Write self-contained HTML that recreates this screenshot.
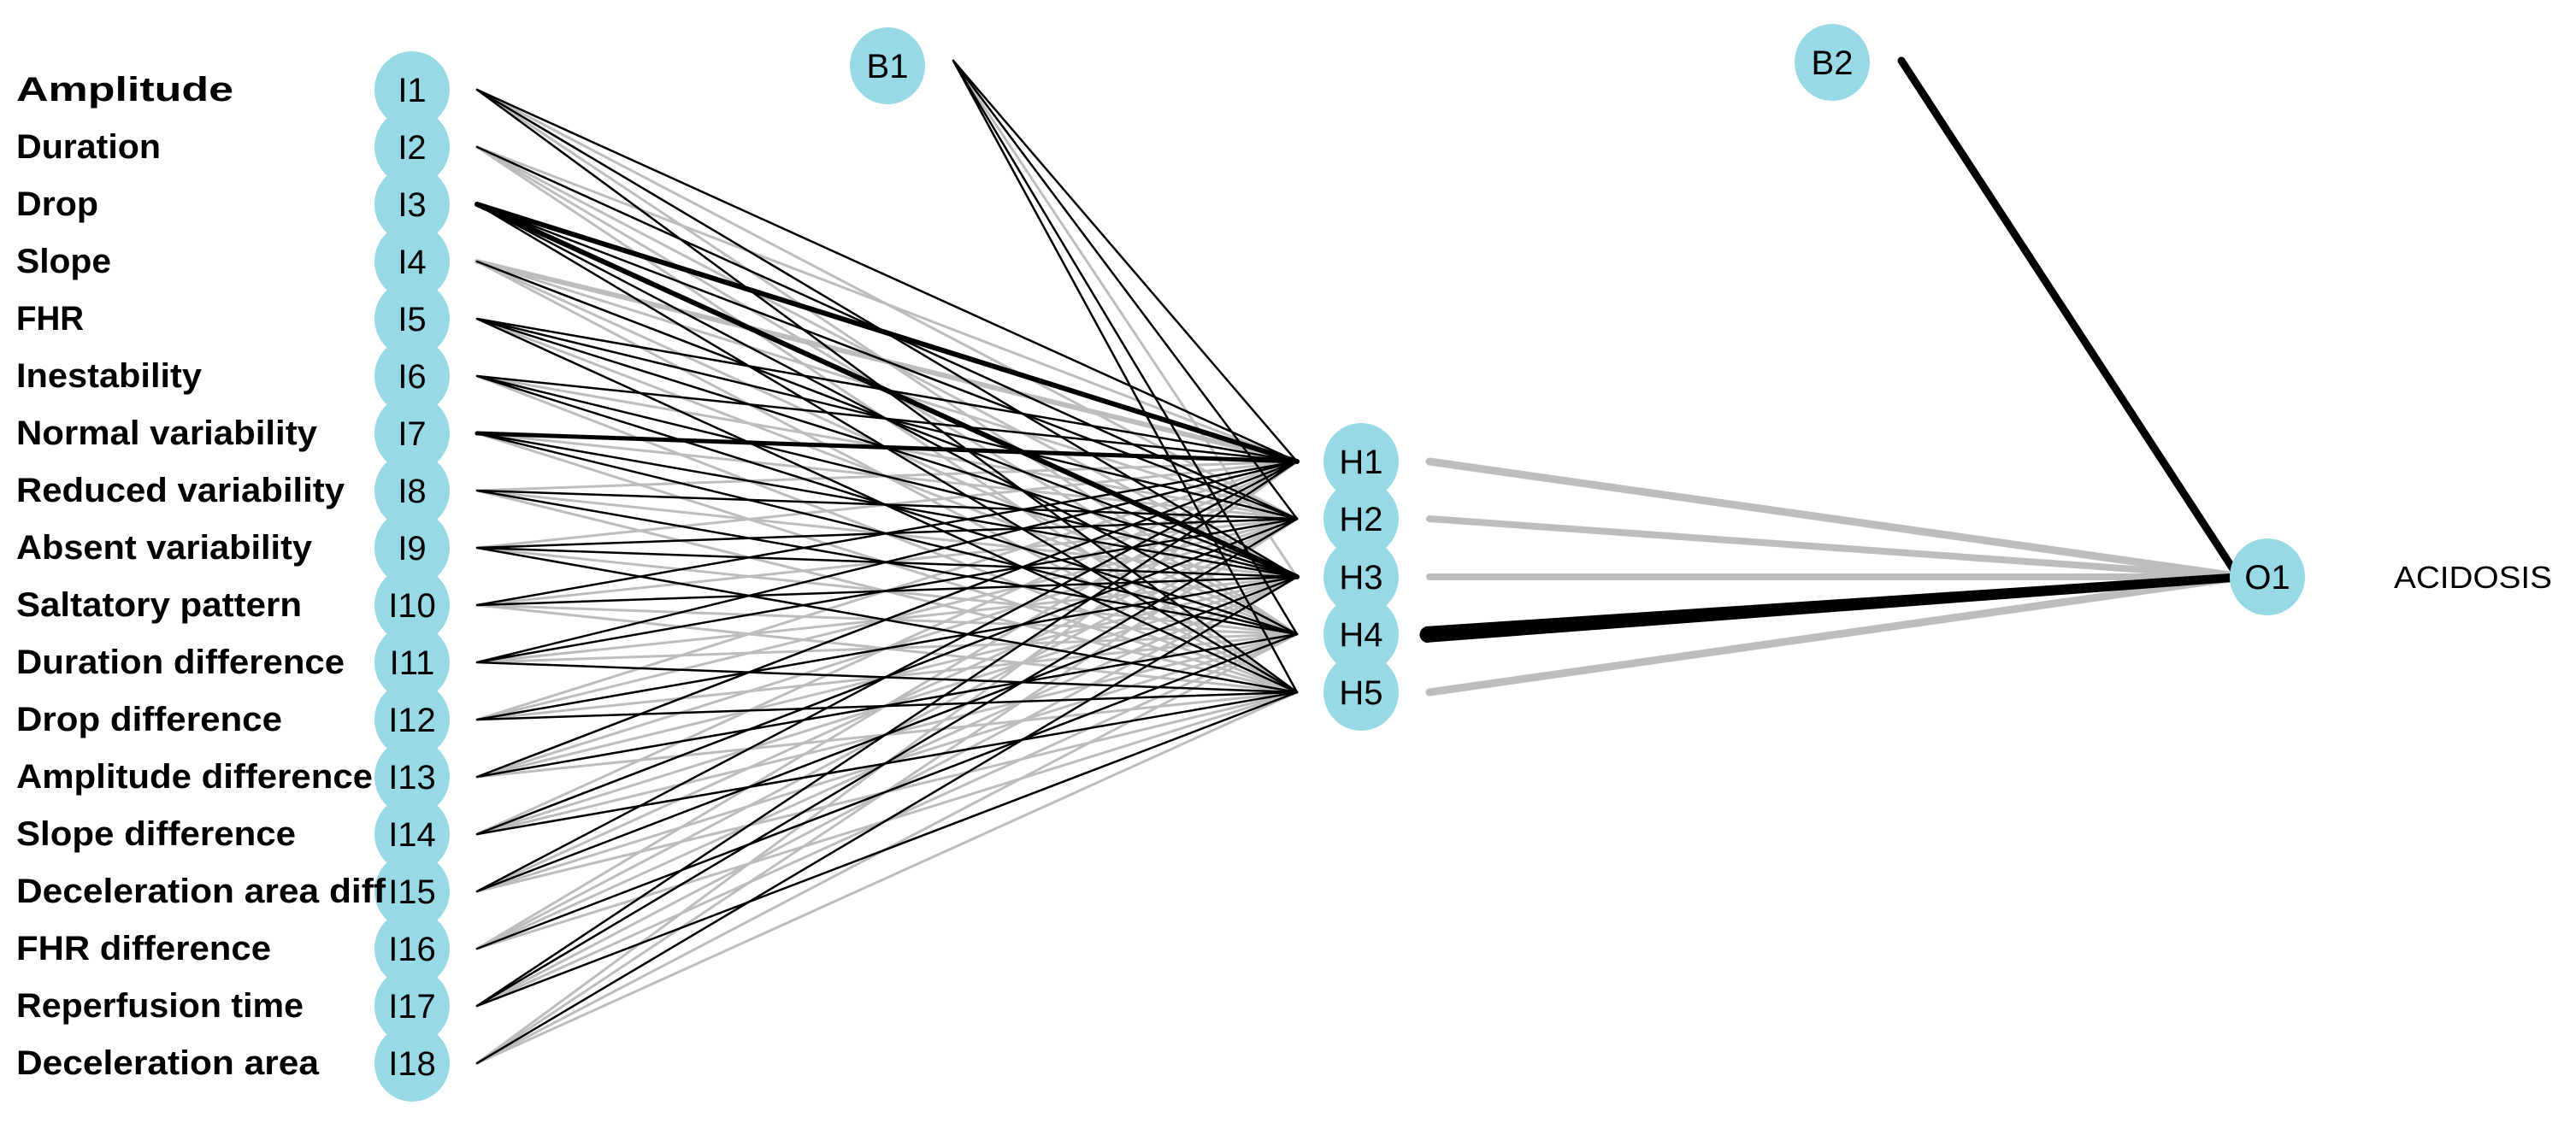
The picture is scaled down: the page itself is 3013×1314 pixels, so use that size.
<!DOCTYPE html>
<html><head><meta charset="utf-8"><style>
html,body{margin:0;padding:0;background:#fff;}
svg{display:block;}
.lab{font-family:"Liberation Sans",sans-serif;font-weight:bold;font-size:40px;fill:#000;}
.nl{font-family:"Liberation Sans",sans-serif;font-size:40px;fill:#000;text-anchor:middle;}
</style></head><body>
<svg width="3013" height="1314" viewBox="0 0 3013 1314" xmlns="http://www.w3.org/2000/svg">
<g stroke="#bdbdbd" stroke-width="3" fill="none" stroke-linecap="round">
<path d="M558 105L1517 607M558 105L1517 742"/>
<path d="M558 172L1517 540M558 172L1517 675M558 172L1517 742M558 172L1517 810"/>
<path d="M558 306L1517 607M558 306L1517 742M558 306L1517 810"/>
<path d="M558 306L1517 540" stroke-width="6"/>
<path d="M558 373L1517 742"/>
<path d="M558 440L1517 607M558 440L1517 810"/>
<path d="M558 507L1517 607M558 507L1517 810"/>
<path d="M558 574L1517 540M558 574L1517 675M558 574L1517 810"/>
<path d="M558 641L1517 540M558 641L1517 742"/>
<path d="M558 708L1517 607M558 708L1517 742M558 708L1517 810"/>
<path d="M558 775L1517 675M558 775L1517 742"/>
<path d="M558 842L1517 540M558 842L1517 607M558 842L1517 742"/>
<path d="M558 909L1517 607M558 909L1517 675M558 909L1517 810"/>
<path d="M558 976L1517 540M558 976L1517 675M558 976L1517 742"/>
<path d="M558 1043L1517 607M558 1043L1517 742M558 1043L1517 810"/>
<path d="M558 1110L1517 540M558 1110L1517 607M558 1110L1517 675M558 1110L1517 810"/>
<path d="M558 1177L1517 675M558 1177L1517 742"/>
<path d="M558 1244L1517 540M558 1244L1517 607M558 1244L1517 742M558 1244L1517 810"/>
<path d="M1115 71L1517 675"/>
</g>
<g stroke="#000" stroke-width="2.5" fill="none" stroke-linecap="round">
<path d="M558 105L1517 540M558 105L1517 675M558 105L1517 810"/>
<path d="M558 172L1517 607"/>
<path d="M558 239L1517 607M558 239L1517 742M558 239L1517 810"/>
<path d="M558 239L1517 540M558 239L1517 675" stroke-width="6"/>
<path d="M558 306L1517 675"/>
<path d="M558 373L1517 540M558 373L1517 607M558 373L1517 675M558 373L1517 810"/>
<path d="M558 440L1517 540M558 440L1517 675M558 440L1517 742"/>
<path d="M558 507L1517 540" stroke-width="5"/>
<path d="M558 507L1517 675M558 507L1517 742"/>
<path d="M558 574L1517 607M558 574L1517 742"/>
<path d="M558 641L1517 607M558 641L1517 675M558 641L1517 810"/>
<path d="M558 708L1517 540M558 708L1517 675"/>
<path d="M558 775L1517 540M558 775L1517 607M558 775L1517 810"/>
<path d="M558 842L1517 675M558 842L1517 810"/>
<path d="M558 909L1517 540M558 909L1517 742"/>
<path d="M558 976L1517 607M558 976L1517 810"/>
<path d="M558 1043L1517 540M558 1043L1517 675"/>
<path d="M558 1110L1517 742"/>
<path d="M558 1177L1517 540M558 1177L1517 607M558 1177L1517 810"/>
<path d="M558 1244L1517 675"/>
<path d="M1115 71L1517 540M1115 71L1517 607M1115 71L1517 742M1115 71L1517 810"/>
</g>
<g fill="none" stroke-linecap="round">
<path d="M1672 540L2622 675" stroke="#bdbdbd" stroke-width="9"/>
<path d="M1672 607L2622 675" stroke="#bdbdbd" stroke-width="8"/>
<path d="M1672 675L2622 675" stroke="#bdbdbd" stroke-width="8"/>
<path d="M1672 810L2622 675" stroke="#bdbdbd" stroke-width="9"/>
<path d="M2224 71L2616 672" stroke="#000" stroke-width="9"/>
</g>
<path d="M1667 733L2624 670L2624 680L1667 752Z" fill="#000"/>
<circle cx="1670" cy="742.5" r="9.5" fill="#000"/>
<g fill="#98d9e6">
<ellipse cx="482" cy="105" rx="44" ry="45"/><ellipse cx="482" cy="172" rx="44" ry="45"/>
<ellipse cx="482" cy="239" rx="44" ry="45"/><ellipse cx="482" cy="306" rx="44" ry="45"/>
<ellipse cx="482" cy="373" rx="44" ry="45"/><ellipse cx="482" cy="440" rx="44" ry="45"/>
<ellipse cx="482" cy="507" rx="44" ry="45"/><ellipse cx="482" cy="574" rx="44" ry="45"/>
<ellipse cx="482" cy="641" rx="44" ry="45"/><ellipse cx="482" cy="708" rx="44" ry="45"/>
<ellipse cx="482" cy="775" rx="44" ry="45"/><ellipse cx="482" cy="842" rx="44" ry="45"/>
<ellipse cx="482" cy="909" rx="44" ry="45"/><ellipse cx="482" cy="976" rx="44" ry="45"/>
<ellipse cx="482" cy="1043" rx="44" ry="45"/><ellipse cx="482" cy="1110" rx="44" ry="45"/>
<ellipse cx="482" cy="1177" rx="44" ry="45"/><ellipse cx="482" cy="1244" rx="44" ry="45"/>
<ellipse cx="1592" cy="540" rx="44" ry="45"/><ellipse cx="1592" cy="607" rx="44" ry="45"/>
<ellipse cx="1592" cy="675" rx="44" ry="45"/><ellipse cx="1592" cy="742" rx="44" ry="45"/>
<ellipse cx="1592" cy="810" rx="44" ry="45"/>
<ellipse cx="2652" cy="675" rx="44" ry="45"/>
<ellipse cx="1038" cy="77" rx="44" ry="45"/>
<ellipse cx="2143" cy="73" rx="44" ry="45"/>
</g>
<g class="nl">
<text x="482" y="119">I1</text><text x="482" y="186">I2</text><text x="482" y="253">I3</text>
<text x="482" y="320">I4</text><text x="482" y="387">I5</text><text x="482" y="454">I6</text>
<text x="482" y="521">I7</text><text x="482" y="588">I8</text><text x="482" y="655">I9</text>
<text x="482" y="722">I10</text><text x="482" y="789">I11</text><text x="482" y="856">I12</text>
<text x="482" y="923">I13</text><text x="482" y="990">I14</text><text x="482" y="1057">I15</text>
<text x="482" y="1124">I16</text><text x="482" y="1191">I17</text><text x="482" y="1258">I18</text>
<text x="1592" y="554">H1</text><text x="1592" y="621">H2</text><text x="1592" y="689">H3</text>
<text x="1592" y="756">H4</text><text x="1592" y="824">H5</text>
<text x="2652" y="689">O1</text>
<text x="1038" y="91">B1</text><text x="2143" y="87">B2</text>
</g>
<text x="2800" y="688" font-family="Liberation Sans, sans-serif" font-size="36" textLength="185" lengthAdjust="spacingAndGlyphs">ACIDOSIS</text>
<g class="lab">
<text x="19" y="118" textLength="254" lengthAdjust="spacingAndGlyphs">Amplitude</text>
<text x="19" y="185" textLength="169" lengthAdjust="spacingAndGlyphs">Duration</text>
<text x="19" y="252" textLength="96" lengthAdjust="spacingAndGlyphs">Drop</text>
<text x="19" y="319" textLength="111" lengthAdjust="spacingAndGlyphs">Slope</text>
<text x="19" y="386" textLength="79" lengthAdjust="spacingAndGlyphs">FHR</text>
<text x="19" y="453" textLength="217" lengthAdjust="spacingAndGlyphs">Inestability</text>
<text x="19" y="520" textLength="352" lengthAdjust="spacingAndGlyphs">Normal variability</text>
<text x="19" y="587" textLength="384" lengthAdjust="spacingAndGlyphs">Reduced variability</text>
<text x="19" y="654" textLength="346" lengthAdjust="spacingAndGlyphs">Absent variability</text>
<text x="19" y="721" textLength="334" lengthAdjust="spacingAndGlyphs">Saltatory pattern</text>
<text x="19" y="788" textLength="384" lengthAdjust="spacingAndGlyphs">Duration difference</text>
<text x="19" y="855" textLength="311" lengthAdjust="spacingAndGlyphs">Drop difference</text>
<text x="19" y="922" textLength="417" lengthAdjust="spacingAndGlyphs">Amplitude difference</text>
<text x="19" y="989" textLength="327" lengthAdjust="spacingAndGlyphs">Slope difference</text>
<text x="19" y="1056" textLength="432" lengthAdjust="spacingAndGlyphs">Deceleration area diff</text>
<text x="19" y="1123" textLength="298" lengthAdjust="spacingAndGlyphs">FHR difference</text>
<text x="19" y="1190" textLength="336" lengthAdjust="spacingAndGlyphs">Reperfusion time</text>
<text x="19" y="1257" textLength="354" lengthAdjust="spacingAndGlyphs">Deceleration area</text>
</g>
</svg>
</body></html>
